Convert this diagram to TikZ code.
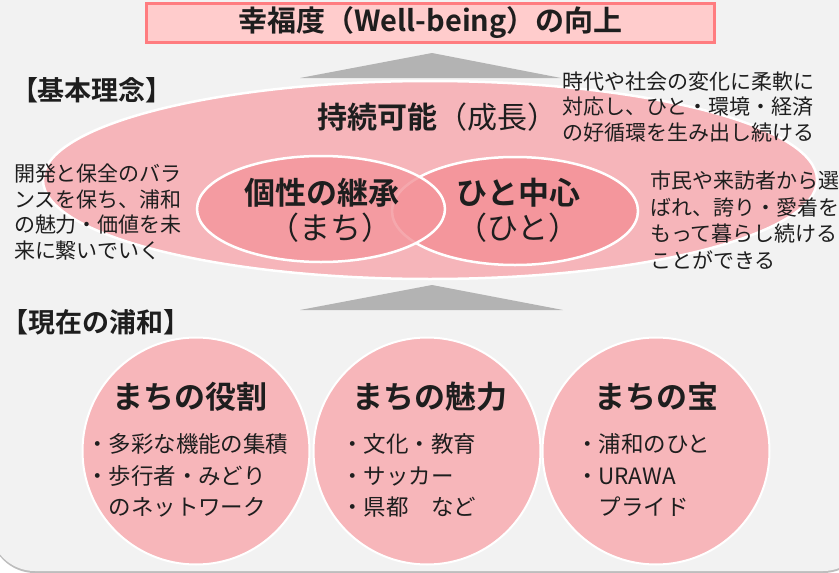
\documentclass[tikz,border=0pt]{standalone}
\usepackage{fontspec}
\setmainfont{Noto Sans CJK JP}[BoldFont={Noto Sans CJK JP Bold}]
\usetikzlibrary{shapes.geometric}
\definecolor{bgc}{HTML}{F2F2F2}
\definecolor{shadowc}{HTML}{BDBDBD}
\definecolor{titlefill}{HTML}{FFCCCC}
\definecolor{titledraw}{HTML}{FF7C80}
\definecolor{trigray}{HTML}{B3B3B3}
\definecolor{bigpink}{HTML}{F6B5BA}
\definecolor{midpink}{HTML}{F4969C}
\definecolor{circpink}{HTML}{F7B6BA}
\definecolor{textc}{HTML}{1E1E1E}
\begin{document}
\begin{tikzpicture}[x=1pt,y=-1pt,
  every node/.style={inner sep=0pt, outer sep=0pt, text=textc},
  titlebox/.style={draw=titledraw, fill=titlefill, line width=3pt, minimum width=568pt, minimum height=39pt, font=\fontsize{29}{30}\selectfont\bfseries},
  heading/.style={font=\fontsize{27}{30}\selectfont\bfseries},
  arrowtri/.style={fill=trigray},
  bigell/.style={ellipse, fill=bigpink, draw=white, line width=2.5pt, minimum width=774pt, minimum height=198pt},
  midell/.style={ellipse, fill=midpink, draw=white, line width=2.5pt, minimum width=246pt, minimum height=106pt},
  circ/.style={circle, fill=circpink, draw=white, line width=2pt, minimum size=227pt},
  bigtxt/.style={font=\fontsize{31}{33}\selectfont\bfseries},
  subtxt/.style={font=\fontsize{31}{33}\selectfont},
  note/.style={anchor=north west, align=left, font=\fontsize{21}{25.3}\selectfont},
  itemtxt/.style={anchor=north west, align=left, font=\fontsize{22.5}{31.5}\selectfont},
]
\useasboundingbox (0,0) rectangle (839,573);
\fill[white] (0,0) rectangle (839,573);
% background panel with bottom shadow
\fill[shadowc, rounded corners=45pt] (-10,-60) rectangle (868,573);
\fill[bgc, rounded corners=45pt] (-10,-60) rectangle (868,571);

% title
\node[titlebox] (title) at (430.5,23) {幸福度（Well-being）の向上};

% upward triangles
\fill[arrowtri] (300,78) -- (432,53) -- (561,78) -- cycle;
\fill[arrowtri] (300,310) -- (432,285) -- (563,310) -- cycle;

% headings
\node[heading] (h1) at (92,90) {【基本理念】};
\node[heading] (h2) at (96,322) {【現在の浦和】};

% basic philosophy ellipses
\node[bigell] (base) at (430,180) {};
\node[midell, minimum width=246pt, minimum height=108pt] (people) at (515,211) {};
\node[midell, fill opacity=0.82, minimum width=248pt, minimum height=106pt] (keep) at (321,209) {};

\node[font=\fontsize{30}{32}\selectfont] (sustain) at (437,117) {{\bfseries 持続可能}（成長）};
\node[bigtxt] (keepT) at (321.5,193) {個性の継承};
\node[subtxt] (keepS) at (330,228) {（まち）};
\node[bigtxt] (peopleT) at (518.5,193) {ひと中心};
\node[subtxt] (peopleS) at (518,228) {（ひと）};

% explanatory notes
\node[note] (n1) at (562,72) {時代や社会の変化に柔軟に\\対応し、ひと・環境・経済\\の好循環を生み出し続ける};
\node[note, font=\fontsize{21}{25.5}\selectfont] (n2) at (14,164) {開発と保全のバラ\\ンスを保ち、浦和\\の魅力・価値を未\\来に繋いでいく};
\node[note, font=\fontsize{21}{26.5}\selectfont] (n3) at (650,171) {市民や来訪者から選\\ばれ、誇り・愛着を\\もって暮らし続ける\\ことができる};

% current Urawa circles
\node[circ] (c1) at (196,451) {};
\node[circ] (c2) at (427,451) {};
\node[circ] (c3) at (656,451) {};

\node[bigtxt] (c1T) at (190,397) {まちの役割};
\node[bigtxt] (c2T) at (430,397) {まちの魅力};
\node[bigtxt] (c3T) at (656,397) {まちの宝};

\node[itemtxt] (c1I) at (86,434) {・多彩な機能の集積\\・歩行者・みどり\\　のネットワーク};
\node[itemtxt] (c2I) at (341,434) {・文化・教育\\・サッカー\\・県都　など};
\node[itemtxt] (c3I) at (576,434) {・浦和のひと\\・URAWA\\　プライド};
\end{tikzpicture}
\end{document}
